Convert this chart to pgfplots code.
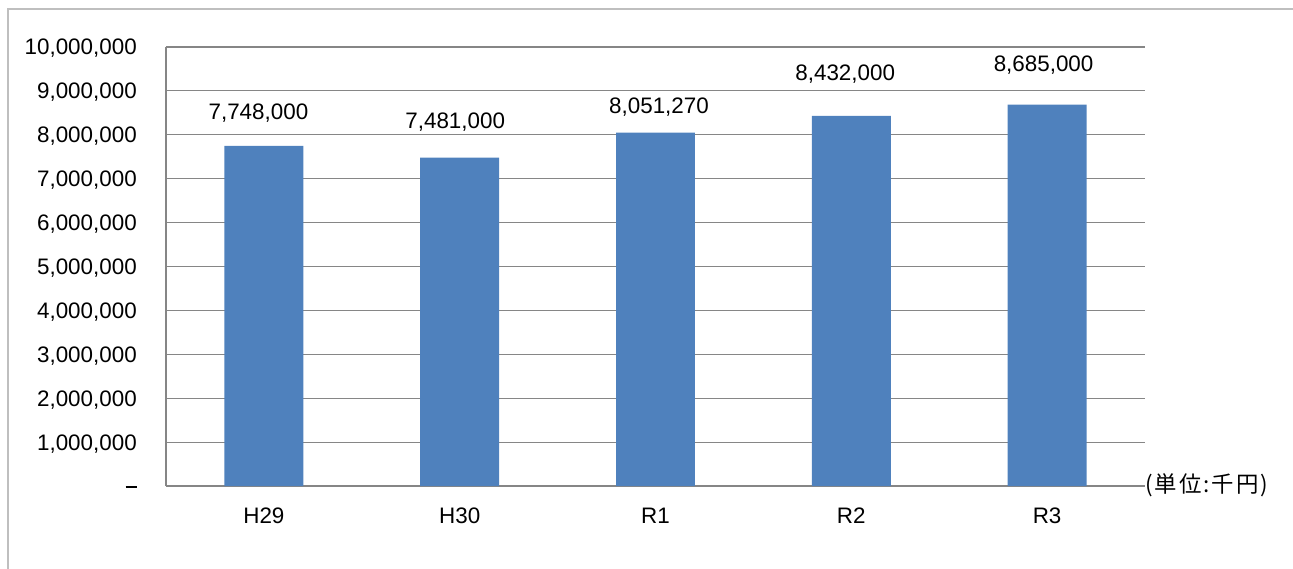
\documentclass[border=0pt]{standalone}
\usepackage{pgfplots}
\pgfplotsset{compat=1.18}
\usepackage{fontspec}
\setmainfont{Liberation Sans}
\newfontfamily\cjk{Noto Sans CJK JP}
\definecolor{barblue}{RGB}{79,129,189}
\definecolor{gridgray}{RGB}{134,134,134}
\definecolor{framegray}{RGB}{191,191,191}
\newcommand{\lbl}{\fontsize{16.8pt}{20pt}\selectfont}
\begin{document}
\begin{tikzpicture}
\useasboundingbox (0,0) rectangle (969.75pt,426pt);
\draw[framegray, line width=1.5pt] (6pt,-5pt) -- (6pt,419.25pt) -- (980pt,419.25pt);
\begin{axis}[
  at={(124.5pt,61.5pt)}, anchor=south west,
  scale only axis, width=734.25pt, height=329.25pt,
  xmin=-0.5, xmax=4.5, ymin=0, ymax=10000000,
  axis x line*=bottom, axis y line*=left,
  axis line style={gridgray, line width=0.9pt},
  ymajorgrids, major grid style={gridgray, line width=0.9pt},
  major tick length=0pt,
  xtick={0,1,2,3,4}, xticklabels={H29,H30,R1,R2,R3},
  ytick={0,1000000,2000000,3000000,4000000,5000000,6000000,7000000,8000000,9000000,10000000},
  yticklabels={{\rule[4.25pt]{8.25pt}{1.5pt}\hspace{12pt}},{1,000,000},{2,000,000},{3,000,000},{4,000,000},{5,000,000},{6,000,000},{7,000,000},{8,000,000},{9,000,000},{10,000,000}},
  scaled y ticks=false,
  yticklabel style={anchor=base east, inner sep=0pt, xshift=-21.75pt, yshift=-6pt, font=\lbl},
  xticklabel style={anchor=base, inner sep=0pt, yshift=-27.75pt, font=\lbl},
  clip=false,
]
\addplot[ybar, bar width=0.403, fill=barblue, draw=none] coordinates {
  (0,7748000) (1,7481000) (2,8051270) (3,8432000) (4,8685000)
};
\addplot[draw=none, mark=none, nodes near coords, point meta=explicit symbolic,
  every node near coord/.style={anchor=base, inner sep=0pt, font=\lbl, black}]
  coordinates {
  (-0.028,8353000) [{7,748,000}]
  (0.977,8148000) [{7,481,000}]
  (2.018,8490000) [{8,051,270}]
  (2.969,9248000) [{8,432,000}]
  (3.982,9437000) [{8,685,000}]
};
\end{axis}
\node[anchor=west, inner sep=0pt, font=\lbl\cjk] at (858.75pt,62.25pt) {(\hspace{1.5pt}単\hspace{1.5pt}位\hspace{1.5pt}:\hspace{1.5pt}千\hspace{1.5pt}円\hspace{1.5pt})};
\end{tikzpicture}
\end{document}
